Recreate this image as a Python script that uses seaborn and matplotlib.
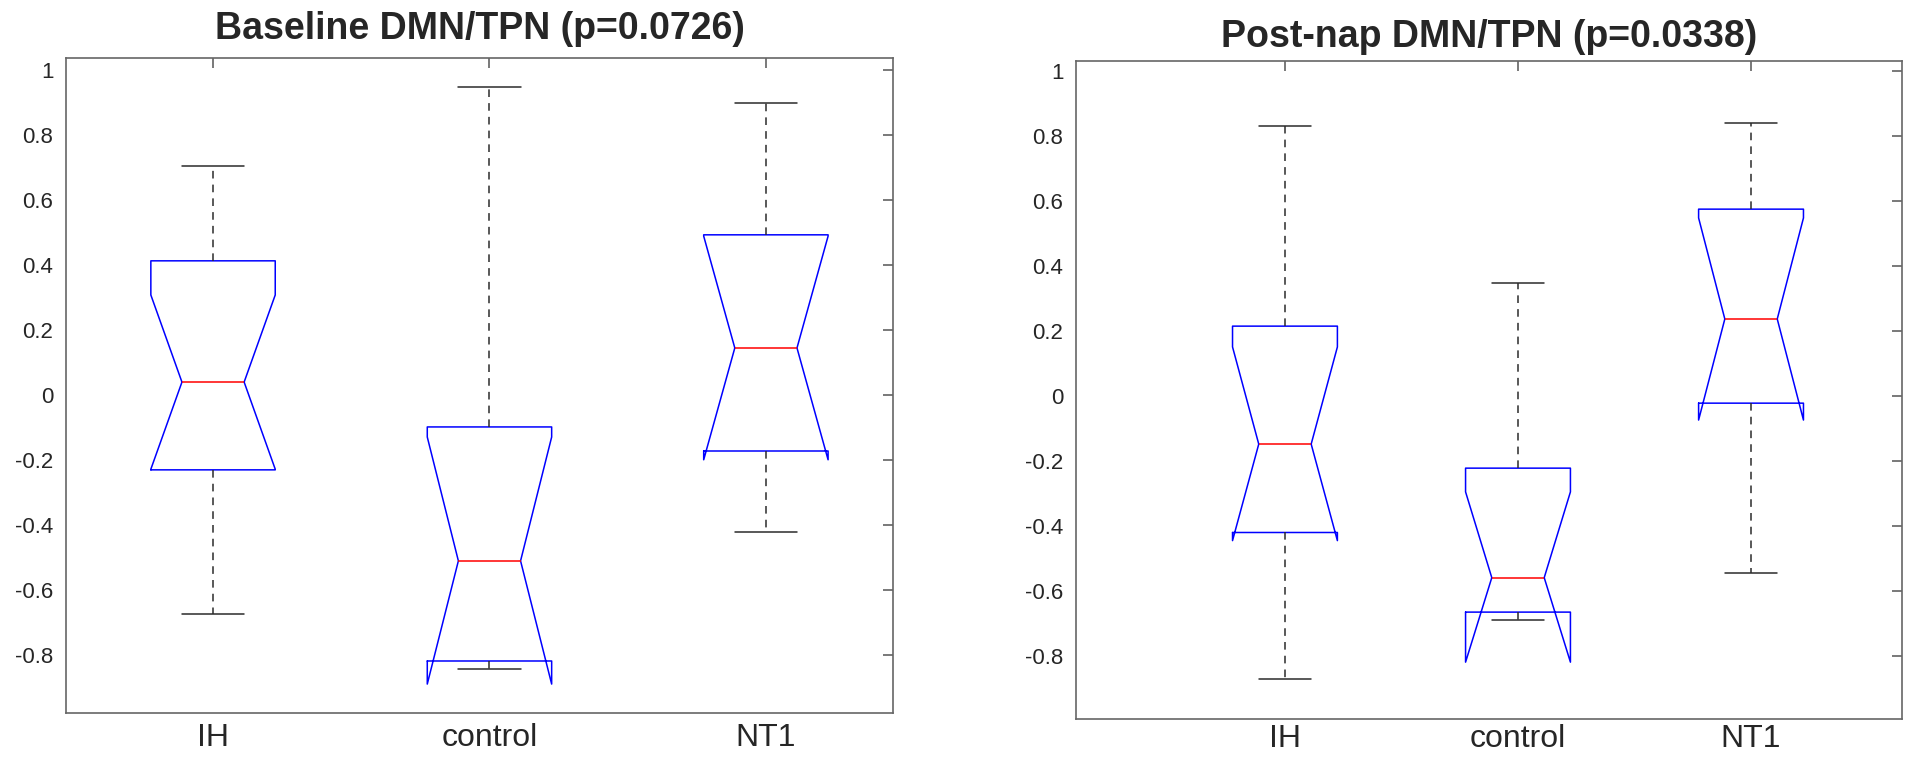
import matplotlib
matplotlib.use("Agg")
import matplotlib.pyplot as plt
import seaborn as sns

groups = ["IH", "control", "NT1"]
yticks = [-0.8, -0.6, -0.4, -0.2, 0, 0.2, 0.4, 0.6, 0.8, 1]
ytick_labels = ["-0.8", "-0.6", "-0.4", "-0.2", "0", "0.2", "0.4", "0.6", "0.8", "1"]

# baseline box statistics
base_whislo = [-0.672, -0.841, -0.420]
base_q1 = [-0.229, -0.817, -0.171]
base_med = [0.041, -0.509, 0.146]
base_q3 = [0.414, -0.097, 0.494]
base_whishi = [0.706, 0.948, 0.900]
base_cilo = [-0.227, -0.888, -0.198]
base_cihi = [0.309, -0.128, 0.490]

# post-nap box statistics
post_whislo = [-0.871, -0.689, -0.545]
post_q1 = [-0.420, -0.665, -0.022]
post_med = [-0.148, -0.559, 0.237]
post_q3 = [0.215, -0.222, 0.575]
post_whishi = [0.831, 0.348, 0.840]
post_cilo = [-0.445, -0.819, -0.074]
post_cihi = [0.151, -0.295, 0.548]

titles = ["Baseline DMN/TPN (p=0.0726)", "Post-nap DMN/TPN (p=0.0338)"]

sns.set_theme(style="white")
plt.rcParams['font.family'] = ['Liberation Sans', 'DejaVu Sans']


def make_stats(whislo, q1, med, q3, whishi, cilo, cihi):
    stats = []
    for i, g in enumerate(groups):
        stats.append(dict(label=g, whislo=whislo[i], q1=q1[i], med=med[i], q3=q3[i],
                          whishi=whishi[i], cilo=cilo[i], cihi=cihi[i], fliers=[]))
    return stats


def draw_panel(ax, stats, title, xlim, ylim, title_pad, xlab_pad):
    ax.bxp(stats, positions=[1, 2, 3], widths=0.45, shownotches=True, showfliers=False,
           capwidths=0.225,
           boxprops=dict(color="#0000ff", lw=1.1),
           medianprops=dict(color="#ff0000", lw=1.1),
           whiskerprops=dict(color="#2b2b2b", lw=1.1, ls=(0, (5, 4))),
           capprops=dict(color="#2b2b2b", lw=1.1))
    ax.set_xlim(*xlim)
    ax.set_ylim(*ylim)
    ax.set_yticks(yticks)
    ax.set_yticklabels(ytick_labels)
    ax.set_xticks([1, 2, 3])
    ax.set_xticklabels(groups)
    ax.tick_params(axis="both", direction="in", top=True, right=True, length=7,
                   width=1.1, color="#555555", labelcolor="#262626")
    ax.tick_params(axis="y", labelsize=16, pad=9)
    ax.tick_params(axis="x", labelsize=23, pad=xlab_pad)
    for s in ax.spines.values():
        s.set_visible(True)
        s.set_color("#666666")
        s.set_linewidth(1.2)
    ax.set_title(title, fontsize=27, fontweight="bold", pad=title_pad)


fig = plt.figure(figsize=(19.07, 7.62), dpi=100)
ax1 = fig.add_axes([0.0346, 0.0643, 0.4337, 0.8596])
ax2 = fig.add_axes([0.5642, 0.0564, 0.4332, 0.8636])

draw_panel(ax1, make_stats(base_whislo, base_q1, base_med, base_q3, base_whishi, base_cilo, base_cihi),
           titles[0], (0.468, 3.46), (-0.977, 1.038), 14, 7)
draw_panel(ax2, make_stats(post_whislo, post_q1, post_med, post_q3, post_whishi, post_cilo, post_cihi),
           titles[1], (0.103, 3.648), (-0.994, 1.031), 10, 3.5)

fig.savefig("out.png", dpi=100)
plt.close(fig)
